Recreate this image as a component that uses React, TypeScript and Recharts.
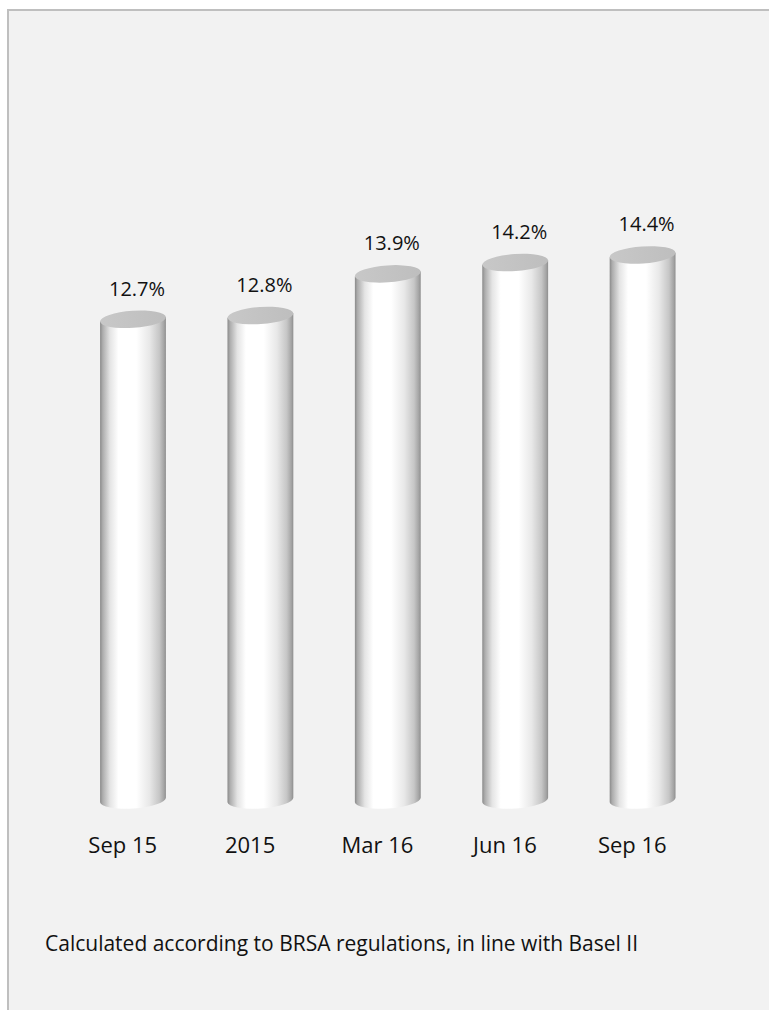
import React from "react";
import { BarChart, Bar, XAxis, YAxis, LabelList } from "recharts";

const categories = ["Sep 15", "2015", "Mar 16", "Jun 16", "Sep 16"];
const ratios = [12.7, 12.8, 13.9, 14.2, 14.4];
const valueLabels = ["12.7%", "12.8%", "13.9%", "14.2%", "14.4%"];
const footnote = "Calculated according to BRSA regulations, in line with Basel II";

const data = categories.map((c, i) => ({ name: c, value: ratios[i], label: valueLabels[i] }));

const FONT = "'Open Sans', 'Noto Sans', sans-serif";
const ANGLE = -4;

const Cylinder = (props: any) => {
  const { x, y, width, height } = props;
  if (width == null || height == null) return null;
  const rx = width / 2;
  const ry = 8.5;
  const cx = x + rx;
  const rad = (ANGLE * Math.PI) / 180;
  const dx = rx * Math.cos(rad);
  const dy = rx * Math.sin(rad);
  const bot = y + height;
  const lxTop = cx - dx;
  const lyTop = y - dy;
  const rxTop = cx + dx;
  const ryTop = y + dy;
  const lyBot = bot - dy;
  const ryBot = bot + dy;
  const d = `M${lxTop},${lyTop} L${cx - dx},${lyBot} A${rx},${ry} ${ANGLE} 0 0 ${cx + dx},${ryBot} L${rxTop},${ryTop} Z`;
  return (
    <g>
      <path d={d} fill="url(#cylBody)" />
      <ellipse cx={cx} cy={y} rx={rx} ry={ry} fill="url(#cylTop)" transform={`rotate(${ANGLE} ${cx} ${y})`} />
    </g>
  );
};

const ValueLabel = (props: any) => {
  const { x, y, width, value } = props;
  return (
    <text
      x={x + width / 2 + 4}
      y={y - 31}
      textAnchor="middle"
      dominantBaseline="central"
      fontFamily={FONT}
      fontSize={20}
      fill="#111"
    >
      {value}
    </text>
  );
};

const Tick = (props: any) => {
  const { x, y, payload } = props;
  return (
    <text
      x={x - 10}
      y={y + 44}
      textAnchor="middle"
      dominantBaseline="central"
      fontFamily={FONT}
      fontSize={22}
      fill="#111"
    >
      {payload.value}
    </text>
  );
};

export default function App() {
  return (
    <div
      style={{
        position: "absolute",
        left: 7,
        top: 9,
        width: 780,
        height: 1020,
        background: "#f2f2f2",
        borderTop: "2px solid #bfbfbf",
        borderLeft: "2px solid #bfbfbf",
        boxSizing: "border-box",
        overflow: "hidden",
      }}
    >
      <BarChart
        width={760}
        height={995}
        data={data}
        margin={{ top: 32, right: 63, bottom: 146, left: 60 }}
        barSize={66}
      >
        <defs>
          <linearGradient id="cylBody" x1="0" y1="0" x2="1" y2="0">
            <stop offset="0%" stopColor="#8a8a8a" />
            <stop offset="4%" stopColor="#adadad" />
            <stop offset="15%" stopColor="#e4e4e4" />
            <stop offset="28%" stopColor="#ffffff" />
            <stop offset="55%" stopColor="#ffffff" />
            <stop offset="75%" stopColor="#e8e8e8" />
            <stop offset="90%" stopColor="#c6c6c6" />
            <stop offset="97%" stopColor="#a4a4a4" />
            <stop offset="100%" stopColor="#8e8e8e" />
          </linearGradient>
          <linearGradient id="cylTop" x1="0" y1="0" x2="1" y2="0">
            <stop offset="0%" stopColor="#c8c8c8" />
            <stop offset="100%" stopColor="#bebebe" />
          </linearGradient>
        </defs>
        <YAxis hide domain={[0, 20]} />
        <XAxis
          dataKey="name"
          axisLine={false}
          tickLine={false}
          tickSize={0}
          tickMargin={0}
          height={60}
          tick={<Tick />}
          interval={0}
        />
        <Bar dataKey="value" shape={<Cylinder />} isAnimationActive={false}>
          <LabelList dataKey="label" content={<ValueLabel />} />
        </Bar>
      </BarChart>
      <div
        style={{
          position: "absolute",
          left: 36,
          top: 919,
          fontFamily: FONT,
          fontSize: 21,
          lineHeight: "26px",
          color: "#111",
          whiteSpace: "nowrap",
        }}
      >
        {footnote}
      </div>
    </div>
  );
}
